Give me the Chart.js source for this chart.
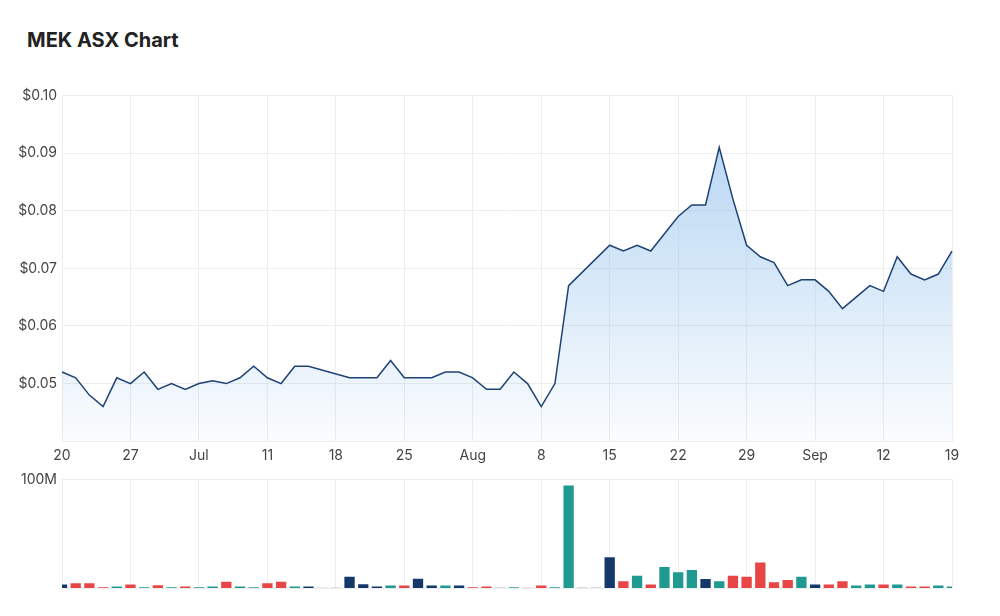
<!DOCTYPE html>
<html>
<head>
<meta charset="utf-8">
<script src="https://cdn.jsdelivr.net/npm/chart.js@4/dist/chart.umd.min.js"></script>
<style>
  body { margin: 0; background: #fff; font-family: Inter, sans-serif; }
  #title { position: absolute; left: 27px; top: 28px; font-size: 20px; font-weight: 700; color: #222; }
  #priceBox { position: absolute; left: 0; top: 82px; width: 1000px; height: 388px; }
  #volBox { position: absolute; left: 0; top: 466px; width: 1000px; height: 136px; }
</style>
</head>
<body>
<div id="title">MEK ASX Chart</div>
<div id="priceBox"><canvas id="price"></canvas></div>
<div id="volBox"><canvas id="volume"></canvas></div>
<script>
const dates = [
  'Jun 20','Jun 21','Jun 22','Jun 23','Jun 24',
  'Jun 27','Jun 28','Jun 29','Jun 30','Jul 1',
  'Jul 4','Jul 5','Jul 6','Jul 7','Jul 8',
  'Jul 11','Jul 12','Jul 13','Jul 14','Jul 15',
  'Jul 18','Jul 19','Jul 20','Jul 21','Jul 22',
  'Jul 25','Jul 26','Jul 27','Jul 28','Jul 29',
  'Aug 1','Aug 2','Aug 3','Aug 4','Aug 5',
  'Aug 8','Aug 9','Aug 10','Aug 11','Aug 12',
  'Aug 15','Aug 16','Aug 17','Aug 18','Aug 19',
  'Aug 22','Aug 23','Aug 24','Aug 25','Aug 26',
  'Aug 29','Aug 30','Aug 31','Sep 1','Sep 2',
  'Sep 5','Sep 6','Sep 7','Sep 8','Sep 9',
  'Sep 12','Sep 13','Sep 14','Sep 15','Sep 16',
  'Sep 19'
];
const tickLabels = ['20','27','Jul','11','18','25','Aug','8','15','22','29','Sep','12','19'];

// close price, null = no trade that day
const prices = [
  0.052, 0.051, 0.048, 0.046, 0.051,
  0.050, 0.052, 0.049, 0.050, 0.049,
  0.050, 0.0505, 0.050, 0.051, 0.053,
  0.051, 0.050, 0.053, 0.053, null,
  null, 0.051, 0.051, 0.051, 0.054,
  0.051, 0.051, 0.051, 0.052, 0.052,
  0.051, 0.049, 0.049, 0.052, 0.050,
  0.046, 0.050, 0.067, null, null,
  0.074, 0.073, 0.074, 0.073, 0.076,
  0.079, 0.081, 0.081, 0.091, 0.082,
  0.074, 0.072, 0.071, 0.067, 0.068,
  0.068, 0.066, 0.063, 0.065, 0.067,
  0.066, 0.072, 0.069, 0.068, 0.069,
  0.073
];

// volume in millions
const volumes = [
  4.6, 5.9, 5.9, 1.9, 2.8,
  4.6, 1.9, 4.0, 1.9, 2.8,
  1.9, 2.8, 7.1, 2.8, 1.9,
  5.9, 7.1, 2.8, 2.8, 1.0,
  1.0, 11.8, 5.0, 2.8, 3.7,
  3.7, 9.9, 3.7, 3.7, 3.7,
  1.9, 2.8, 1.2, 1.9, 1.2,
  3.7, 1.9, 95.4, 1.2, 1.2,
  29.7, 7.7, 12.7, 4.6, 20.7,
  15.8, 18.0, 9.6, 7.7, 12.7,
  11.8, 24.8, 6.8, 8.7, 11.8,
  4.6, 4.6, 7.7, 3.7, 4.6,
  4.6, 4.6, 2.8, 2.8, 3.7,
  2.8
];

// u = up, d = down, f = flat
const moves = [
  'f','d','d','d','u',
  'd','u','d','u','d',
  'u','u','d','u','u',
  'd','d','u','f','f',
  'f','f','f','f','u',
  'd','f','f','u','f',
  'd','d','f','u','d',
  'd','u','u','f','f',
  'f','d','u','d','u',
  'u','u','f','u','d',
  'd','d','d','d','u',
  'f','d','d','u','u',
  'd','u','d','d','u',
  'u'
];
const moveColors = { u: '#209a90', d: '#e84646', f: '#15386b' };

const gridColor = '#ededed';
const tickFont = { family: 'Inter', size: 14 };

function weeklyTicks(scale) {
  scale.ticks = scale.ticks.filter((t) => t.value % 5 === 0);
}

new Chart(document.getElementById('price'), {
  type: 'line',
  data: {
    labels: dates,
    datasets: [
      {
        data: prices,
        borderColor: '#1d4276',
        borderWidth: 1.5,
        pointRadius: 0,
        tension: 0,
        spanGaps: true,
        fill: 'start',
        backgroundColor: (ctx) => {
          const area = ctx.chart.chartArea;
          if (!area) return 'rgba(150,195,235,0.4)';
          const g = ctx.chart.ctx.createLinearGradient(0, area.top, 0, area.bottom);
          g.addColorStop(0, 'rgba(140,190,235,0.7)');
          g.addColorStop(1, 'rgba(140,190,235,0.04)');
          return g;
        },
      },
    ],
  },
  options: {
    responsive: true,
    maintainAspectRatio: false,
    animation: false,
    layout: { padding: { top: 0, right: 48, bottom: 0, left: 0 } },
    plugins: { legend: { display: false }, tooltip: { enabled: false } },
    scales: {
      x: {
        offset: false,
        afterBuildTicks: weeklyTicks,
        grid: { color: gridColor, drawTicks: false },
        border: { color: gridColor },
        ticks: {
          autoSkip: false,
          maxRotation: 0,
          padding: 6,
          color: '#444',
          font: tickFont,
          callback: (v, i) => tickLabels[i],
        },
      },
      y: {
        min: 0.04,
        max: 0.10,
        afterFit: (s) => { s.width = 62; },
        grid: { color: gridColor, drawTicks: false },
        border: { color: gridColor },
        ticks: {
          stepSize: 0.01,
          padding: 5,
          color: '#444',
          font: tickFont,
          callback: (v) => (v < 0.045 ? '' : '$' + v.toFixed(2)),
        },
      },
    },
  },
});

new Chart(document.getElementById('volume'), {
  type: 'bar',
  data: {
    labels: dates,
    datasets: [
      {
        data: volumes,
        backgroundColor: moves.map((m) => moveColors[m]),
        borderColor: 'rgba(255,255,255,0.55)',
        borderWidth: 1,
        barPercentage: 0.9,
        categoryPercentage: 1,
      },
    ],
  },
  options: {
    responsive: true,
    maintainAspectRatio: false,
    animation: false,
    layout: { padding: { top: 6, right: 48, bottom: 10, left: 0 } },
    plugins: { legend: { display: false }, tooltip: { enabled: false } },
    scales: {
      x: {
        offset: false,
        afterBuildTicks: weeklyTicks,
        grid: { color: gridColor, drawTicks: false, offset: false },
        border: { display: false },
        ticks: { display: false },
      },
      y: {
        min: 0,
        max: 100,
        afterFit: (s) => { s.width = 62; },
        grid: { color: gridColor, drawTicks: false },
        border: { color: gridColor },
        ticks: {
          stepSize: 100,
          padding: 5,
          color: '#444',
          font: tickFont,
          callback: (v) => (v === 100 ? '100M' : ''),
        },
      },
    },
  },
});
</script>
</body>
</html>
